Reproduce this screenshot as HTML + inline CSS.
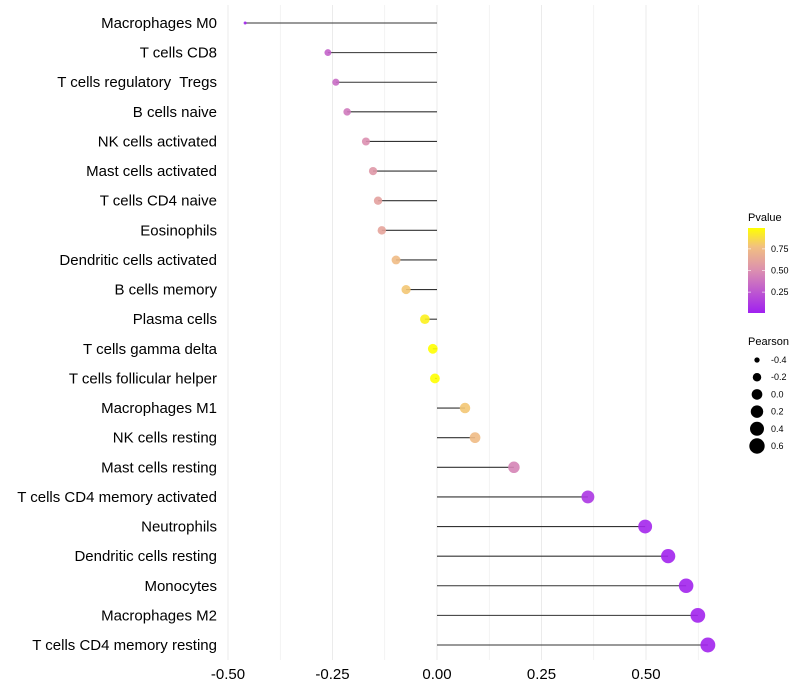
<!DOCTYPE html>
<html><head><meta charset="utf-8"><style>
body{margin:0;background:#fff;font-family:"Liberation Sans",sans-serif}
svg{display:block}
#ylab text{white-space:pre}
</style></head><body>
<svg id="chart" width="800" height="700">
<defs><linearGradient id="pg" x1="0" y1="1" x2="0" y2="0">
<stop offset="0" stop-color="#A020F0"/><stop offset="0.5" stop-color="#DB8FB0"/><stop offset="0.78" stop-color="#F2C080"/><stop offset="1" stop-color="#FFFF00"/></linearGradient></defs>
<g id="grid"></g>
<g id="marks"></g>
<g id="ylab"></g>
<g id="xlab"></g>
<g>
<text x="748" y="221" font-size="11">Pvalue</text>
<rect x="748" y="228" width="17" height="85" fill="url(#pg)"/>
<g id="pticks"></g>
</g>
<g id="sizeleg">
<text x="748" y="345" font-size="11">Pearson</text>
</g>
</svg>
<script>
const categories=["Macrophages M0","T cells CD8","T cells regulatory  Tregs","B cells naive","NK cells activated","Mast cells activated","T cells CD4 naive","Eosinophils","Dendritic cells activated","B cells memory","Plasma cells","T cells gamma delta","T cells follicular helper","Macrophages M1","NK cells resting","Mast cells resting","T cells CD4 memory activated","Neutrophils","Dendritic cells resting","Monocytes","Macrophages M2","T cells CD4 memory resting"];
const pearson=[-0.459,-0.261,-0.242,-0.215,-0.170,-0.153,-0.141,-0.132,-0.098,-0.074,-0.029,-0.010,-0.005,0.067,0.091,0.184,0.361,0.498,0.553,0.596,0.624,0.648];
const pvalues=[0.02,0.30,0.34,0.40,0.50,0.55,0.60,0.62,0.75,0.80,0.95,1.0,1.0,0.80,0.75,0.45,0.10,0.03,0.02,0.02,0.02,0.02];
const xTicks=[-0.5,-0.25,0,0.25,0.5];
const xTickLabels=["-0.50","-0.25","0.00","0.25","0.50"];
const pTicks=[0.25,0.5,0.75];
const sizeLegend=[-0.4,-0.2,0.0,0.2,0.4,0.6];
const NS="http://www.w3.org/2000/svg";
const X=v=>437+v*418;
const Y=i=>23+i*(622/21);
const R=v=>Math.sqrt(Math.max(0.5,2.25+(v+0.46)*48));
const PY=p=>313-(p-0.01)/0.98*85;
function lerp(a,b,t){return a.map((x,i)=>Math.round(x+(b[i]-x)*t));}
const stops=[[0,[160,32,240]],[0.5,[219,143,176]],[0.78,[242,192,128]],[1,[255,255,0]]];
function col(p){p=Math.max(0,Math.min(1,p));for(let i=1;i<stops.length;i++){if(p<=stops[i][0]){const t=(p-stops[i-1][0])/(stops[i][0]-stops[i-1][0]);const c=lerp(stops[i-1][1],stops[i][1],t);return `rgb(${c})`;}}return "rgb(255,255,0)";}
function mk(tag,attrs,parent,text){const e=document.createElementNS(NS,tag);for(const k in attrs)e.setAttribute(k,attrs[k]);if(text!==undefined)e.textContent=text;parent.appendChild(e);return e;}
const grid=document.getElementById('grid'),marks=document.getElementById('marks'),ylab=document.getElementById('ylab'),xlab=document.getElementById('xlab');
for(let v=-0.5;v<=0.626;v+=0.125){const g=mk('line',{x1:X(v),x2:X(v),y1:5,y2:660,stroke:'#ebebeb','stroke-width':Math.abs((v*8)%2)<0.01?1:0.6},grid);}
xTicks.forEach((v,i)=>{const t=mk('text',{x:X(v),y:679,'font-size':15,'text-anchor':'middle',fill:'#000'},xlab,xTickLabels[i]);});
categories.forEach((c,i)=>{
 const t=mk('text',{x:217,y:Y(i)+5,'font-size':15,'text-anchor':'end',fill:'#000'},ylab,c);
 
 const l=mk('line',{x1:X(0),x2:X(pearson[i]),y1:Y(i),y2:Y(i),stroke:'#333','stroke-width':1.1},marks);
 
 const d=mk('circle',{cx:X(pearson[i]),cy:Y(i),r:R(pearson[i]),fill:col(pvalues[i]),'fill-opacity':0.9},marks);
 
});
const pt=document.getElementById('pticks');
pTicks.forEach(p=>{mk('line',{x1:748,x2:751,y1:PY(p),y2:PY(p),stroke:'#fff','stroke-opacity':0.6},pt);mk('line',{x1:762,x2:765,y1:PY(p),y2:PY(p),stroke:'#fff','stroke-opacity':0.6},pt);
 const t=mk('text',{x:771,y:PY(p)+3,'font-size':9},pt,p.toFixed(2));});
const sl=document.getElementById('sizeleg');
sizeLegend.forEach((v,i)=>{const y=360+i*17.2;const c=mk('circle',{cx:757,cy:y,r:R(v)+0.4,fill:'#000'},sl);
 const t=mk('text',{x:771,y:y+3,'font-size':9},sl,v.toFixed(1));});
</script>
</body></html>
